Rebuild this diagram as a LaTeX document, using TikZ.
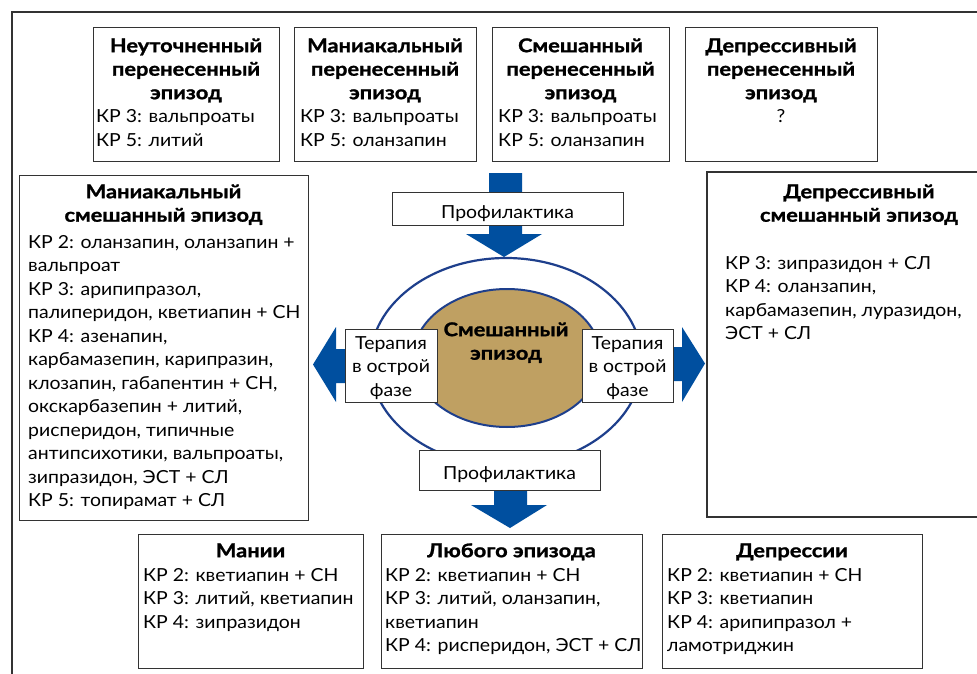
\documentclass[tikz,border=0pt]{standalone}
\usepackage{fontspec}
\setmainfont{Lato}[FakeStretch=1.08]
\newfontfamily\hdfont{Lato}[FakeStretch=1.15, FakeBold=1.2]
\definecolor{arrowblue}{HTML}{004F9F}
\definecolor{ringblue}{HTML}{1E3F8C}
\definecolor{eptan}{HTML}{BFA062}
\newcommand\fs{\fontsize{18}{23.5}\selectfont}
\newcommand\fh{\fontsize{19}{23.5}\selectfont}
\newcommand\fr{\rule{0pt}{16pt}}
\tikzset{
  x=1pt, y=-1pt,
  panel/.style={draw=black!80, line width=1.3pt, fill=white, rectangle, inner sep=0pt, anchor=north west},
  hd/.style={anchor=north, inner sep=0pt, align=center, font=\fh\hdfont\bfseries},
  bd/.style={anchor=north west, inner sep=0pt, align=left, font=\fs},
  ct/.style={anchor=north, inner sep=0pt, align=center, font=\fs},
  blk/.style={fill=arrowblue, draw=none},
}
\begin{document}
\begin{tikzpicture}
\useasboundingbox (0,0) rectangle (977,674);
\fill[white] (0,0) rectangle (977,674);
% outer frame
\draw[line width=1.3pt, black!80] (12,674) -- (12,12) -- (977,12);

% top boxes
\node[panel, minimum width=186pt, minimum height=134pt] (b1) at (93,27) {};
\node[hd] (b1h) at (186,36) {\fr Неуточненный\\перенесенный\\эпизод};
\node[bd] (b1t) at (96,106.5) {\fr КР 3: вальпроаты\\КР 5: литий};

\node[panel, minimum width=182pt, minimum height=134pt] (b2) at (294,27) {};
\node[hd] (b2h) at (385,36) {\fr Маниакальный\\перенесенный\\эпизод};
\node[bd] (b2t) at (300,106.5) {\fr КР 3: вальпроаты\\КР 5: оланзапин};

\node[panel, minimum width=177pt, minimum height=134pt] (b3) at (492,27) {};
\node[hd] (b3h) at (580.5,36) {\fr Смешанный\\перенесенный\\эпизод};
\node[bd] (b3t) at (498,106.5) {\fr КР 3: вальпроаты\\КР 5: оланзапин};

\node[panel, minimum width=192pt, minimum height=134pt] (b4) at (685,27) {};
\node[hd] (b4h) at (781,36) {\fr Депрессивный\\перенесенный\\эпизод};
\node[ct] (b4t) at (781,106.5) {\fr ?};

% left box
\node[panel, minimum width=289pt, minimum height=345pt] (lb) at (19,175) {};
\node[hd] (lbh) at (163.5,182) {\fr Маниакальный\\смешанный эпизод};
\node[bd] (lbt) at (28,232) {\fr КР 2: оланзапин, оланзапин +\\вальпроат\\КР 3: арипипразол,\\палиперидон, кветиапин + СН\\КР 4: азенапин,\\карбамазепин, карипразин,\\клозапин, габапентин + СН,\\окскарбазепин + литий,\\рисперидон, типичные\\антипсихотики, вальпроаты,\\зипразидон, ЭСТ + СЛ\\КР 5: топирамат + СЛ};

% right box (cut at the right edge)
\draw[line width=1.3pt, black!80, fill=white] (980,172) -- (707,172) -- (707,517) -- (980,517);
\coordinate (rb) at (707,172);
\node[hd] (rbh) at (859,182) {\fr Депрессивный\\смешанный эпизод};
\node[bd] (rbt) at (725,253) {\fr КР 3: зипразидон + СЛ\\КР 4: оланзапин,\\карбамазепин, луразидон,\\ЭСТ + СЛ};

% block arrows
\fill[blk] (489,173) -- (522,173) -- (522,234) -- (542,234) -- (504,257) -- (466,234) -- (489,234) -- cycle;
\fill[blk] (494,488) -- (527,488) -- (527,505) -- (547,505) -- (510,528) -- (471,505) -- (494,505) -- cycle;
\fill[blk] (350,349) -- (336,349) -- (336,327) -- (313,364.5) -- (336,402) -- (336,383) -- (350,383) -- cycle;
\fill[blk] (668,347) -- (682,347) -- (682,327) -- (705,363.5) -- (682,402) -- (682,381) -- (668,381) -- cycle;

% ellipses
\draw[ringblue, line width=2.2pt] (506,362) ellipse [x radius=136, y radius=104];
\draw[ringblue, line width=2pt, fill=eptan] (507,358) ellipse [x radius=94, y radius=69];
\node[hd] (mid) at (506,320) {\fr Смешанный\\эпизод};

% therapy boxes
\node[panel, minimum width=92pt, minimum height=73pt] (tl) at (345,329) {};
\node[ct] (tlt) at (391,333) {\fr Терапия\\в острой\\фазе};
\node[panel, minimum width=91pt, minimum height=73pt] (tr) at (582,329) {};
\node[ct] (trt) at (627.5,333) {\fr Терапия\\в острой\\фазе};

% prophylaxis boxes
\node[panel, minimum width=231pt, minimum height=33pt] (pt) at (392,192) {};
\node[ct] (ptt) at (507.5,202) {\fr Профилактика};
\node[panel, minimum width=181pt, minimum height=40pt] (pb) at (419,450) {};
\node[ct] (pbt) at (509.5,463) {\fr Профилактика};

% bottom boxes
\node[panel, minimum width=225pt, minimum height=134pt] (m1) at (138,534) {};
\node[hd] (m1h) at (250.5,541) {\fr Мании};
\node[bd] (m1t) at (143,565) {\fr КР 2: кветиапин + СН\\КР 3: литий, кветиапин\\КР 4: зипразидон};

\node[panel, minimum width=261pt, minimum height=134pt] (m2) at (381,534) {};
\node[hd] (m2h) at (511.5,541) {\fr Любого эпизода};
\node[bd] (m2t) at (385,565) {\fr КР 2: кветиапин + СН\\КР 3: литий, оланзапин,\\кветиапин\\КР 4: рисперидон, ЭСТ + СЛ};

\node[panel, minimum width=260pt, minimum height=134pt] (m3) at (662,534) {};
\node[hd] (m3h) at (792,541) {\fr Депрессии};
\node[bd] (m3t) at (667,565) {\fr КР 2: кветиапин + СН\\КР 3: кветиапин\\КР 4: арипипразол +\\ламотриджин};
\end{tikzpicture}
\end{document}
